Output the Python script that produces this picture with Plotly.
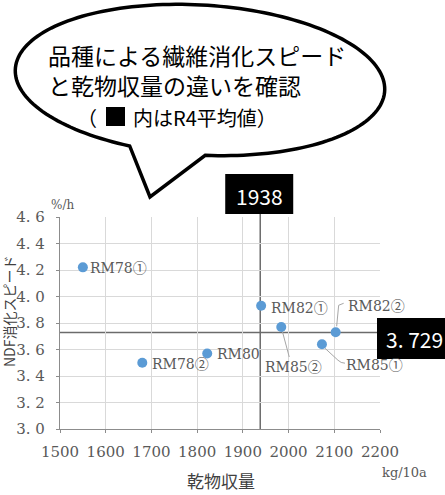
import math
import plotly.graph_objects as go

# ---- data -------------------------------------------------------------
varieties = ["RM78①", "RM78②", "RM80", "RM82①", "RM82②", "RM85①", "RM85②"]
dm_yield = [1550, 1680, 1822, 1940, 2103, 2073, 1984]          # kg/10a
ndf_rate = [4.22, 3.50, 3.57, 3.93, 3.73, 3.64, 3.77]          # %/h
mean_yield = 1938
mean_rate = 3.729

x_tickvals = [1500, 1600, 1700, 1800, 1900, 2000, 2100, 2200]
y_tickvals = [3.0, 3.2, 3.4, 3.6, 3.8, 4.0, 4.2, 4.4, 4.6]
y_ticktext = ["3. 0", "3. 2", "3. 4", "3. 6", "3. 8", "4. 0", "4. 2", "4. 4", "4. 6"]

# ---- page geometry ----------------------------------------------------
W, H = 445, 495
ML, MR, MT, MB = 60, 65, 217, 66
PW, PH = W - ML - MR, H - MT - MB


def px(x):
    """page pixel x -> paper fraction"""
    return (x - ML) / PW


def py(y):
    """page pixel y (from top) -> paper fraction"""
    return (H - MB - y) / PH


SERIF = "DejaVu Serif"
SANS = "Noto Sans CJK JP"
GRAY_TXT = "#595959"


def label_markup(name):
    """render circled digits with the CJK face so they keep full width"""
    out = ""
    for ch in name:
        if "\u2460" <= ch <= "\u2473":
            out += f"<span style='font-family:{SANS}'>{ch}</span>"
        else:
            out += ch
    return out


fig = go.Figure()
fig.add_trace(go.Scatter(
    x=dm_yield, y=ndf_rate, mode="markers",
    marker=dict(size=10, color="#5B9BD5", line=dict(width=0)),
    hoverinfo="skip", showlegend=False,
))

# label placement (pixel offsets from each point) and optional leader paths
label_offsets = {
    "RM78①": (6, 0, None),
    "RM78②": (9, 0, None),
    "RM80": (9, -1, None),
    "RM82①": (9, -1, None),
    "RM82②": (11, 27, "M 1 6 L 3 27 L 8 29"),
    "RM85①": (23, -20, "M 3 -4 L 16 -16 Q 19 -19 23 -19"),
    "RM85②": (-17, -39, "M 1 -4 L 8 -30"),
}

annotations = []
shapes = []
for name, xv, yv in zip(varieties, dm_yield, ndf_rate):
    dx, dy, leader = label_offsets[name]
    annotations.append(dict(
        x=xv, y=yv, xref="x", yref="y", text=label_markup(name), showarrow=False,
        xanchor="left", yanchor="middle", xshift=dx, yshift=dy, borderpad=0,
        font=dict(family=SERIF, size=14, color=GRAY_TXT),
    ))
    if leader:
        shapes.append(dict(
            type="path", xref="x", yref="y", xsizemode="pixel", ysizemode="pixel",
            xanchor=xv, yanchor=yv, path=leader,
            line=dict(color="#a6a6a6", width=1), layer="between",
        ))

# R4 average reference lines
shapes.append(dict(type="line", xref="x", yref="paper", x0=mean_yield, x1=mean_yield,
                   y0=0, y1=py(214), line=dict(color="#6b6b6b", width=1.5), layer="between"))
shapes.append(dict(type="line", xref="paper", yref="y", x0=0, x1=px(377),
                   y0=mean_rate, y1=mean_rate, line=dict(color="#6b6b6b", width=1.5), layer="between"))

# value boxes for the averages
shapes.append(dict(type="rect", xref="x", yref="paper", xsizemode="pixel", xanchor=mean_yield,
                   x0=-35, x1=33, y0=py(214), y1=py(174), fillcolor="black", line=dict(width=0)))
annotations.append(dict(x=mean_yield, y=py(196), xref="x", yref="paper", text=str(mean_yield),
                        showarrow=False, xanchor="center", yanchor="middle", xshift=-1,
                        font=dict(family=SANS, size=21, color="white")))
shapes.append(dict(type="rect", xref="paper", yref="paper", x0=px(377), x1=px(450),
                   y0=py(359), y1=py(318), fillcolor="black", line=dict(width=0)))
annotations.append(dict(x=px(414), y=py(339), xref="paper", yref="paper",
                        text=str(mean_rate).replace(".", ". "), showarrow=False,
                        xanchor="center", yanchor="middle",
                        font=dict(family=SANS, size=21, color="white")))

# speech bubble
cx, cy, a, b, rot = 200.0, 80.0, 185.0, 75.0, math.radians(3.4)
pts = []
t = 87.0
while t >= 109.2 - 360:
    r = math.radians(t)
    xx = cx + a * math.cos(r) * math.cos(rot) - b * math.sin(r) * math.sin(rot)
    yy = cy + a * math.cos(r) * math.sin(rot) + b * math.sin(r) * math.cos(rot)
    pts.append((xx, yy))
    t -= 2.0
pts.append((150, 197))
bubble = "M " + " L ".join(f"{px(x):.5f},{py(y):.5f}" for x, y in pts) + " Z"
shapes.append(dict(type="path", xref="paper", yref="paper", path=bubble,
                   fillcolor="white", line=dict(color="black", width=3.5)))

annotations.append(dict(x=px(46), y=py(70), xref="paper", yref="paper",
                        text="品種による繊維消化スピード<br>と乾物収量の違いを確認",
                        showarrow=False, xanchor="left", yanchor="middle", align="left",
                        font=dict(family=SANS, size=23, color="black")))
annotations.append(dict(x=px(99), y=py(117), xref="paper", yref="paper", text="（",
                        showarrow=False, xanchor="right", yanchor="middle",
                        font=dict(family=SANS, size=20, color="black")))
annotations.append(dict(x=px(131), y=py(117), xref="paper", yref="paper", text="内はR4平均値）",
                        showarrow=False, xanchor="left", yanchor="middle",
                        font=dict(family=SANS, size=20, color="black")))
shapes.append(dict(type="rect", xref="paper", yref="paper", x0=px(106), x1=px(125),
                   y0=py(126), y1=py(107), fillcolor="black", line=dict(width=0)))

# axis titles and units
annotations += [
    dict(x=px(9), y=py(312), text="NDF消化スピード", textangle=-90,
         font=dict(family=SANS, size=14, color="#404040")),
    dict(x=px(62), y=py(205), text="%/h", font=dict(family=SERIF, size=12, color=GRAY_TXT)),
    dict(x=px(404), y=py(472), text="kg/10a", font=dict(family=SERIF, size=13, color=GRAY_TXT)),
    dict(x=px(221), y=py(480), text="乾物収量", font=dict(family=SANS, size=17, color="#404040")),
]
for ann in annotations[-4:]:
    ann.update(xref="paper", yref="paper", showarrow=False, xanchor="center", yanchor="middle")

fig.update_layout(
    width=W, height=H, autosize=False,
    margin=dict(l=ML, r=MR, t=MT, b=MB, pad=0),
    paper_bgcolor="white", plot_bgcolor="white",
    showlegend=False,
    xaxis=dict(range=[1500, 2200], tickvals=x_tickvals, showgrid=True, gridcolor="#d9d9d9",
               gridwidth=1, zeroline=False, showline=True, linecolor="#8c8c8c", linewidth=1.2,
               ticks="outside", ticklen=3, tickcolor="#8c8c8c", ticklabelstandoff=6,
               tickfont=dict(family=SERIF, size=15, color=GRAY_TXT), fixedrange=True),
    yaxis=dict(range=[3.0, 4.6], tickvals=y_tickvals, ticktext=y_ticktext, showgrid=True,
               gridcolor="#d9d9d9", gridwidth=1, zeroline=False, showline=True,
               linecolor="#8c8c8c", linewidth=1.2, ticks="outside", ticklen=3,
               tickcolor="#8c8c8c", ticklabelstandoff=8,
               tickfont=dict(family=SERIF, size=15, color=GRAY_TXT), fixedrange=True),
    shapes=shapes,
    annotations=annotations,
)

fig.write_html("out.html")
